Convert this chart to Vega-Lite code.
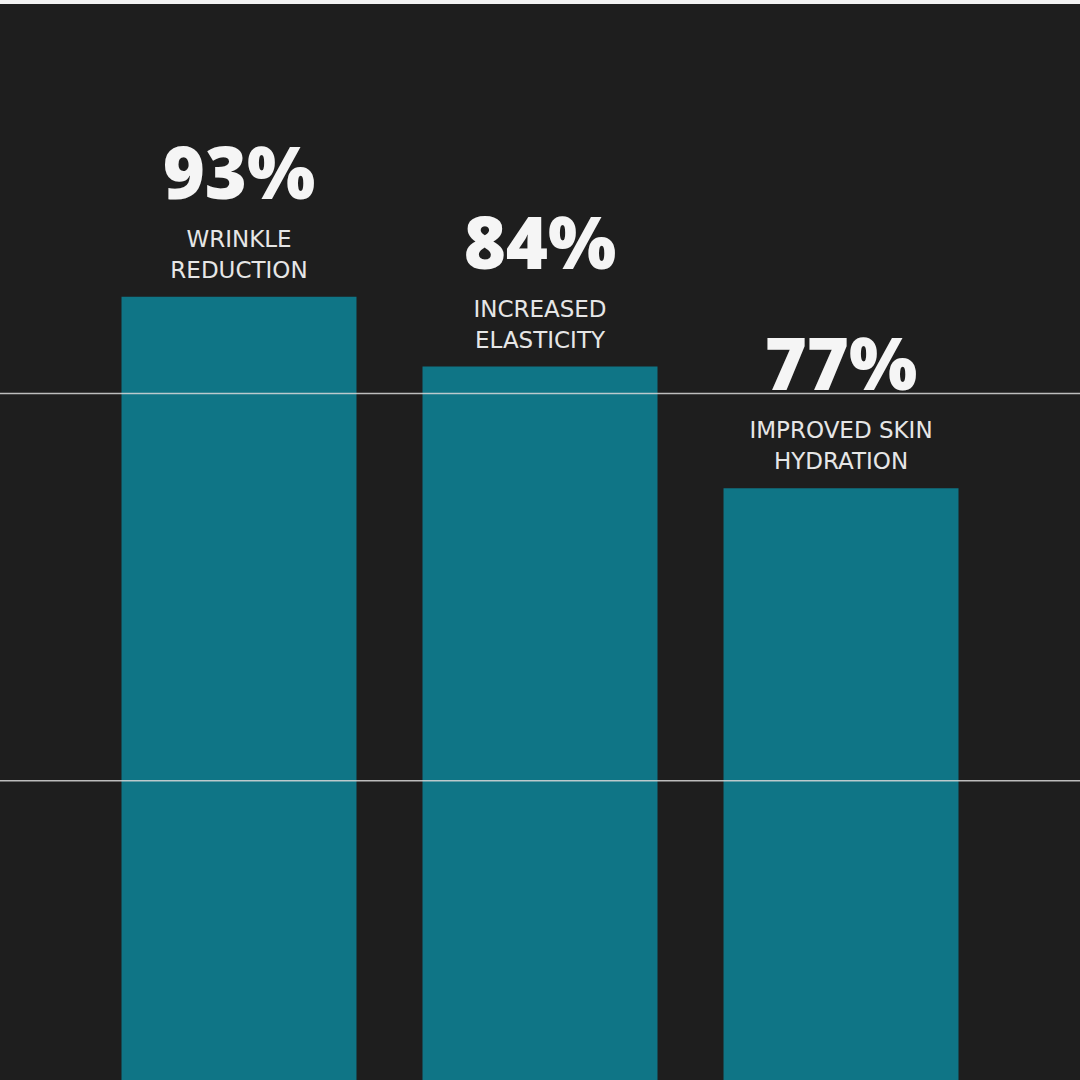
{
  "$schema": "https://vega.github.io/schema/vega-lite/v6.json",
  "width": 1080,
  "height": 1076,
  "autosize": {"type": "none"},
  "padding": {"top": 4, "left": 0, "right": 0, "bottom": 0},
  "background": "#f2f2f2",
  "config": {"view": {"stroke": null, "fill": "#1e1e1e"}},
  "datasets": {
    "bars": [
      {"metric": "Wrinkle reduction", "pct": "93%", "line1": "WRINKLE", "line2": "REDUCTION", "bar_level": 72.8},
      {"metric": "Increased elasticity", "pct": "84%", "line1": "INCREASED", "line2": "ELASTICITY", "bar_level": 66.3},
      {"metric": "Improved skin hydration", "pct": "77%", "line1": "IMPROVED SKIN", "line2": "HYDRATION", "bar_level": 55.0}
    ],
    "guides": [{"level": 27.8}, {"level": 63.8}]
  },
  "layer": [
    {
      "data": {"name": "bars"},
      "mark": {"type": "bar", "color": "#0f7586"},
      "encoding": {
        "x": {"field": "metric", "type": "nominal", "sort": null, "axis": null,
              "scale": {"paddingInner": 0.2193, "paddingOuter": 0.4036}},
        "y": {"field": "bar_level", "type": "quantitative", "axis": null, "scale": {"domain": [0, 100], "nice": false}}
      }
    },
    {
      "data": {"name": "guides"},
      "mark": {"type": "rule", "color": "#d9d9d9", "strokeWidth": 1.5, "opacity": 0.85},
      "encoding": {
        "y": {"field": "level", "type": "quantitative"}
      }
    },
    {
      "data": {"name": "bars"},
      "mark": {"type": "text", "color": "#f5f5f5", "font": "Open Sans", "fontWeight": 800, "fontSize": 72, "baseline": "alphabetic", "dy": -98},
      "encoding": {
        "x": {"field": "metric", "type": "nominal", "sort": null},
        "y": {"field": "bar_level", "type": "quantitative"},
        "text": {"field": "pct"}
      }
    },
    {
      "data": {"name": "bars"},
      "mark": {"type": "text", "color": "#e6e6e6", "font": "DejaVu Sans", "fontWeight": 400, "fontSize": 23, "baseline": "alphabetic", "dy": -50},
      "encoding": {
        "x": {"field": "metric", "type": "nominal", "sort": null},
        "y": {"field": "bar_level", "type": "quantitative"},
        "text": {"field": "line1"}
      }
    },
    {
      "data": {"name": "bars"},
      "mark": {"type": "text", "color": "#e6e6e6", "font": "DejaVu Sans", "fontWeight": 400, "fontSize": 23, "baseline": "alphabetic", "dy": -19},
      "encoding": {
        "x": {"field": "metric", "type": "nominal", "sort": null},
        "y": {"field": "bar_level", "type": "quantitative"},
        "text": {"field": "line2"}
      }
    }
  ]
}
